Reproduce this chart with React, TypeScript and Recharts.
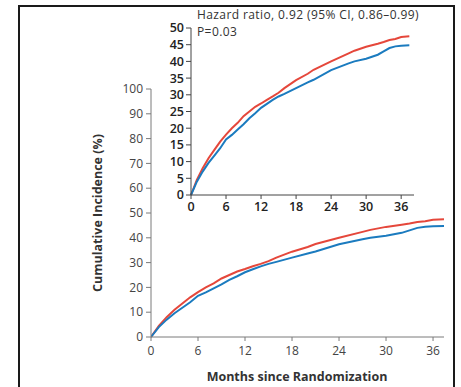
import React from 'react'
import { LineChart, Line, XAxis, YAxis } from 'recharts'

// months since randomization, with the cumulative incidence (%) of each arm
const months = [0, 1, 2, 3, 4, 5, 6, 7, 8, 9, 10, 11, 12, 13, 14, 15, 16, 18, 20, 21, 24, 27, 28, 30, 32, 33, 34, 35, 36, 37.4]
const redArm = [0, 4.5, 8, 11, 13.5, 16, 18.1, 20, 21.6, 23.6, 25, 26.4, 27.4, 28.5, 29.5, 30.6, 32, 34.4, 36.3, 37.5, 40, 42.4, 43.2, 44.4, 45.3, 45.8, 46.4, 46.7, 47.3, 47.5]
const blueArm = [0, 4, 7, 9.6, 11.8, 14, 16.6, 18, 19.6, 21.2, 23, 24.5, 26.1, 27.3, 28.5, 29.5, 30.3, 32, 33.7, 34.5, 37.4, 39.4, 40, 40.8, 42, 43, 44, 44.5, 44.7, 44.8]

const monthTicks = [0, 6, 12, 18, 24, 30, 36]
const mainYTicks = [0, 10, 20, 30, 40, 50, 60, 70, 80, 90, 100]
const insetYTicks = [0, 5, 10, 15, 20, 25, 30, 35, 40, 45, 50]

const data = months.map((m, i) => ({ month: m, red: redArm[i], blue: blueArm[i] }))

const RED = '#e5473b'
const BLUE = '#1b7bbf'
const AXIS = '#7a7a7a'
const FONT = '"Open Sans", "Liberation Sans", sans-serif'

const noteStyle: React.CSSProperties = {
  position: 'absolute',
  left: 197,
  fontSize: 12,
  letterSpacing: 0.4,
  color: '#333',
  lineHeight: '17px',
  whiteSpace: 'nowrap',
}

export default function App() {
  return (
    <div style={{ position: 'absolute', left: 0, top: 0, width: 461, height: 387, background: '#fff', overflow: 'hidden', fontFamily: FONT }}>
      <div style={{ position: 'absolute', left: 18, top: 5, width: 433, height: 400, border: '2px solid #1a1a1a' }} />

      {/* main chart */}
      <div style={{ position: 'absolute', left: 0, top: 0 }}>
        <LineChart width={461} height={387} data={data} margin={{ top: 89, right: 17, bottom: 20, left: 111 }}>
          <XAxis
            dataKey="month"
            type="number"
            domain={[0, 37.4]}
            ticks={monthTicks}
            interval={0}
            allowDataOverflow
            height={30}
            tickSize={4}
            tickMargin={5}
            stroke={AXIS}
            tick={{ fontSize: 12, fill: '#444', fontFamily: FONT }}
          />
          <YAxis
            type="number"
            domain={[0, 100]}
            ticks={mainYTicks}
            interval={0}
            width={40}
            tickSize={5}
            tickMargin={3}
            stroke={AXIS}
            tick={{ fontSize: 12, fill: '#444', fontFamily: FONT }}
          />
          <Line dataKey="red" stroke={RED} strokeWidth={2} dot={false} isAnimationActive={false} />
          <Line dataKey="blue" stroke={BLUE} strokeWidth={2} dot={false} isAnimationActive={false} />
        </LineChart>
      </div>

      {/* inset, zoomed to 0-50 % */}
      <div style={{ position: 'absolute', left: 0, top: 0 }}>
        <LineChart width={461} height={230} data={data} margin={{ top: 28, right: 47, bottom: 5, left: 151 }}>
          <XAxis
            dataKey="month"
            type="number"
            domain={[0, 38.2]}
            ticks={monthTicks}
            interval={0}
            height={30}
            tickSize={4}
            tickMargin={3}
            stroke="#444"
            tick={{ fontSize: 12.5, fill: '#222', fontWeight: 600, fontFamily: FONT }}
          />
          <YAxis
            type="number"
            domain={[0, 50]}
            ticks={insetYTicks}
            interval={0}
            width={40}
            tickSize={5}
            tickMargin={2}
            stroke="#444"
            tick={{ fontSize: 12.5, fill: '#222', fontWeight: 600, fontFamily: FONT }}
          />
          <Line dataKey="red" stroke={RED} strokeWidth={2} dot={false} isAnimationActive={false} />
          <Line dataKey="blue" stroke={BLUE} strokeWidth={2} dot={false} isAnimationActive={false} />
        </LineChart>
      </div>

      <div style={{ ...noteStyle, top: 6 }}>Hazard ratio, 0.92 (95% CI, 0.86–0.99)</div>
      <div style={{ ...noteStyle, top: 23 }}>P=0.03</div>

      <div
        style={{
          position: 'absolute',
          left: 97,
          top: 213,
          transform: 'translate(-50%, -50%) rotate(-90deg)',
          fontSize: 12.5,
          fontWeight: 700,
          color: '#333',
          whiteSpace: 'nowrap',
        }}
      >
        Cumulative Incidence (%)
      </div>
      <div
        style={{
          position: 'absolute',
          left: 297,
          top: 376,
          transform: 'translate(-50%, -50%)',
          fontSize: 12.5,
          fontWeight: 700,
          color: '#333',
          whiteSpace: 'nowrap',
        }}
      >
        Months since Randomization
      </div>
    </div>
  )
}
